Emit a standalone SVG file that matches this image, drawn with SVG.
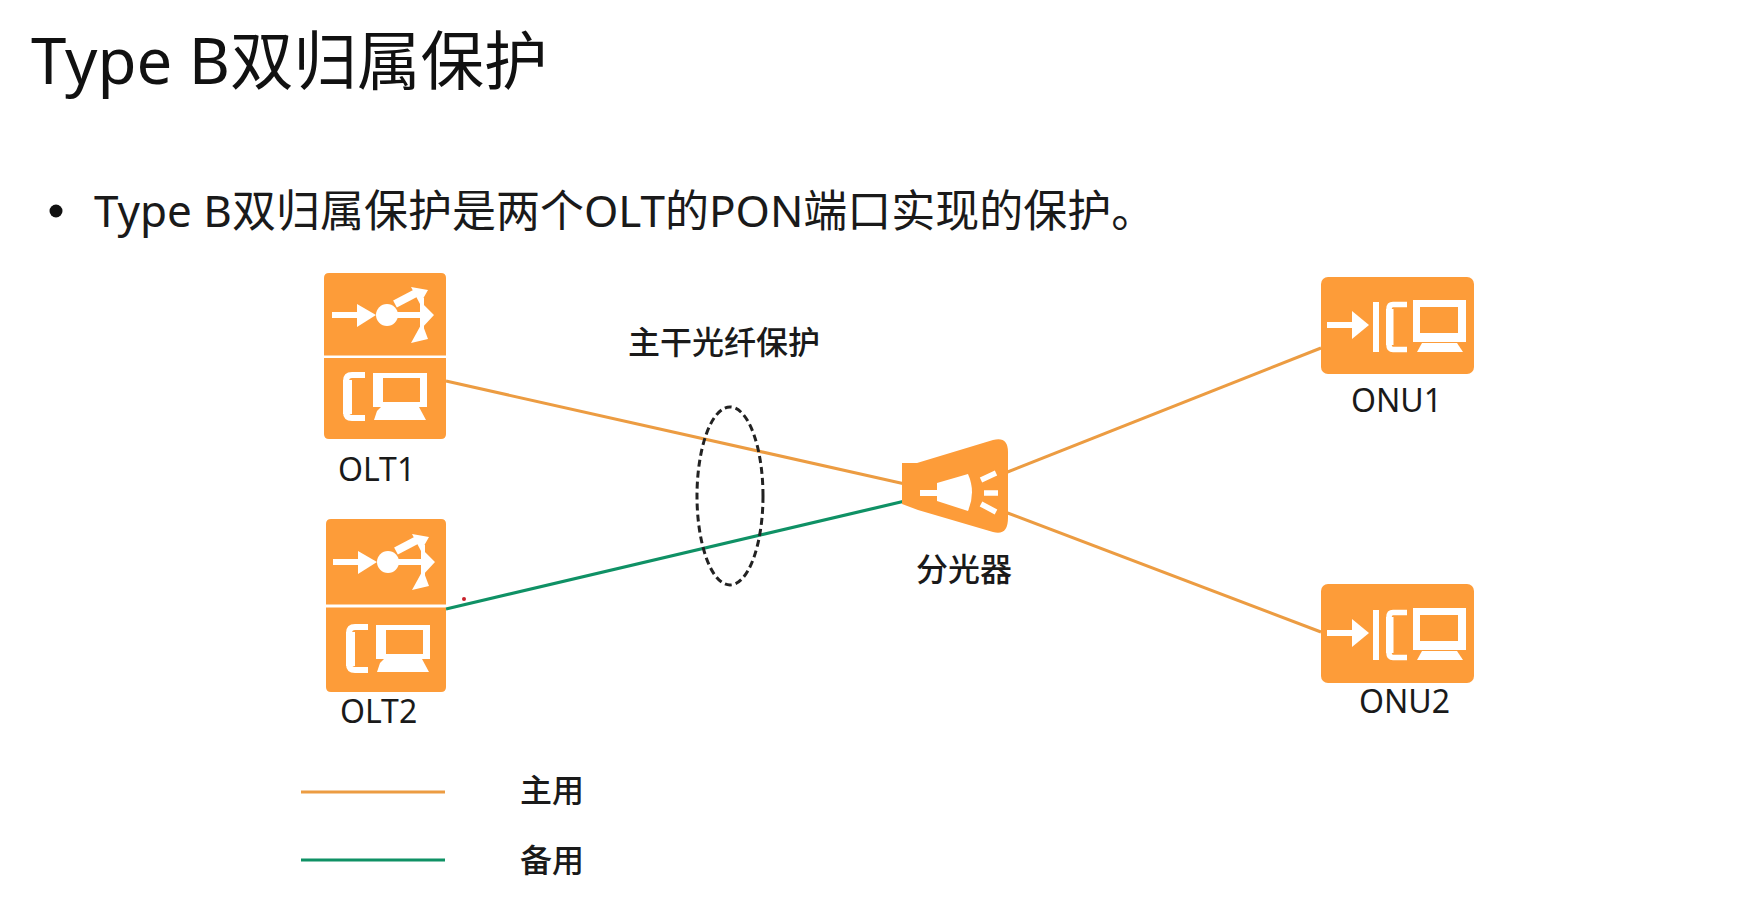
<svg xmlns="http://www.w3.org/2000/svg" width="1737" height="905" viewBox="0 0 1737 905">
<style>
text{font-family:"Noto Sans","Noto Sans CJK SC","Liberation Sans",sans-serif;fill:#1a1a1a}
.lab{font-size:32px}
.cn{font-size:32px;font-weight:500}
.box{fill:#fd9c39}
.w{fill:#fff;stroke:none}
.ws{fill:none;stroke:#fff}
.main{stroke:#ec9c42;stroke-width:3;fill:none}
.back{stroke:#0f9165;stroke-width:3.2;fill:none}
</style>
<defs>
<g id="router">
<path class="ws" stroke-width="6" d="M8 42H36M72 42H98"/>
<path class="ws" stroke-width="8" d="M71 31L92 20"/>
<path class="ws" stroke-width="4" d="M98 25V60"/>
<path class="w" d="M33 31L52 42L33 54Z"/>
<circle class="w" cx="63" cy="42" r="11"/>
<path class="w" d="M87 14L104 17L96 31ZM96 28L110 42L97 56ZM98 50L104 66L87 70Z"/>
</g>
<g id="pc">
<path class="ws" stroke-width="6" d="M41 17H28Q22 17 22 23V54Q22 60 28 60H41"/>
<rect class="w" x="19" y="22" width="9" height="34"/>
<path class="w" fill-rule="evenodd" d="M49 15H103V49H49ZM59 20V44H96V20Z"/>
<path class="w" d="M57 49H95L102 62H50L53 53Z"/>
</g>
<g id="onuicon">
<path class="ws" stroke-width="6" d="M6 48H33"/>
<path class="w" d="M31 34L48 48L31 62Z"/>
<rect class="w" x="52" y="25" width="6" height="50"/>
<path class="ws" stroke-width="5.500" d="M86 27.500H72Q68 27.500 68 32V68Q68 72.500 72 72.500H86"/>
<rect class="w" x="65" y="32" width="7.500" height="36"/>
<path class="w" fill-rule="evenodd" d="M92 23H145V65H92ZM99 30V56H137V30Z"/>
<path class="w" d="M101 66H136L142 75H96Z"/>
</g>
</defs>
<rect width="1737" height="905" fill="#fff"/>
<text x="31" y="84" style="font-size:63.500px;fill:#111">Type B双归属保护</text>
<circle cx="56" cy="211" r="6.500" fill="#111"/>
<text x="94" y="227" style="font-size:44px">Type B双归属保护是两个OLT的PON端口实现的保护。</text>
<g id="connectors">
<line class="main" x1="446" y1="381" x2="905" y2="484"/>
<line class="back" x1="446" y1="609" x2="905" y2="501"/>
<line class="main" x1="1005" y1="473" x2="1321" y2="348"/>
<line class="main" x1="1005" y1="512" x2="1321" y2="632"/>
<ellipse cx="730" cy="496" rx="33" ry="89" fill="none" stroke="#222" stroke-width="3" stroke-dasharray="7 4"/>
</g>
<g id="olt1">
<path class="box" d="M329 273H441Q446 273 446 278V355.500H324V278Q324 273 329 273Z"/>
<path class="box" d="M324 358H446V434Q446 439 441 439H329Q324 439 324 434Z"/>
<use href="#router" x="324" y="273"/>
<use href="#pc" x="324" y="358"/>
<text class="lab" x="338" y="481">OLT1</text>
</g>
<g id="olt2">
<path class="box" d="M331 519H441Q446 519 446 524V604.500H326V524Q326 519 331 519Z"/>
<path class="box" d="M326 607.500H446V687Q446 692 441 692H331Q326 692 326 687Z"/>
<use href="#router" x="325" y="520"/>
<use href="#pc" x="327" y="610"/>
<text class="lab" x="340" y="723">OLT2</text>
</g>
<circle cx="464" cy="599" r="2" fill="#c8202a"/>
<g id="splitter">
<path class="box" d="M902 463H917L993 440Q1008 436 1008 452V518Q1008 536 993 532L918 510L902 504Z"/>
<path class="w" d="M937 483L968 474Q976 492 968 511L937 501Z"/>
<rect class="w" x="920" y="490" width="20" height="6"/>
<path class="ws" stroke-width="5.500" d="M981 480L996 473M984 493H998M981 504L996 512"/>
</g>
<g id="onu1">
<rect class="box" x="1321" y="277" width="153" height="97" rx="7"/>
<use href="#onuicon" x="1321" y="277"/>
<text class="lab" x="1351" y="412">ONU1</text>
</g>
<g id="onu2">
<rect class="box" x="1321" y="584" width="153" height="99" rx="7"/>
<use href="#onuicon" x="1321" y="585"/>
<text class="lab" x="1359" y="713">ONU2</text>
</g>
<text class="cn" x="628" y="354">主干光纤保护</text>
<text class="cn" x="916" y="581">分光器</text>
<g id="legend">
<line class="main" x1="301" y1="792" x2="445" y2="792"/>
<line class="back" x1="301" y1="860" x2="445" y2="860"/>
<text class="cn" x="520" y="802">主用</text>
<text class="cn" x="520" y="872">备用</text>
</g>
</svg>
